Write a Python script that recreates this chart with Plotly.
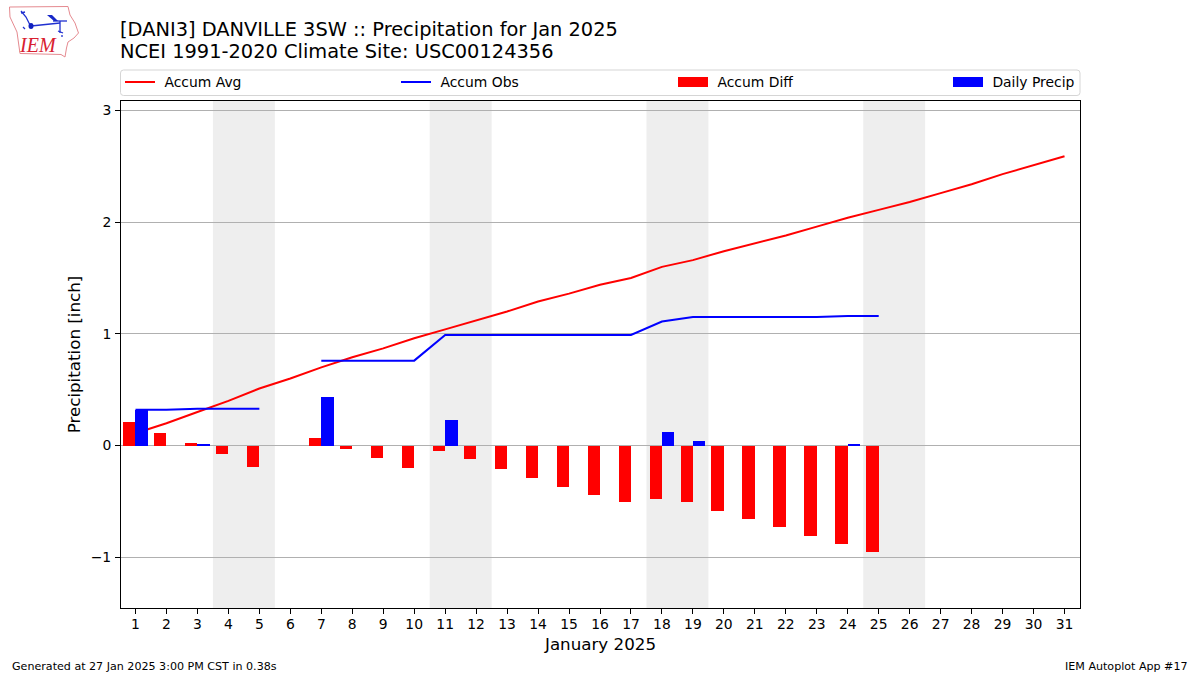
import plotly.graph_objects as go

days = list(range(1, 32))
accum_avg = [0.11, 0.20, 0.30, 0.40, 0.51, 0.60, 0.70, 0.79, 0.87, 0.96, 1.04, 1.12, 1.20, 1.29, 1.36, 1.44,
             1.50, 1.60, 1.66, 1.74, 1.81, 1.88, 1.96, 2.04, 2.11, 2.18, 2.26, 2.34, 2.43, 2.51, 2.59]
accum_obs = [0.32, 0.32, 0.33, 0.33, 0.33, None, 0.76, 0.76, 0.76, 0.76, 0.99, 0.99, 0.99, 0.99, 0.99, 0.99,
             0.99, 1.11, 1.15, 1.15, 1.15, 1.15, 1.15, 1.16, 1.16]
accum_diff = [0.21, 0.11, 0.02, -0.08, -0.19, None, 0.065, -0.03, -0.11, -0.20, -0.045, -0.125, -0.21, -0.295, -0.37,
              -0.447, -0.51, -0.483, -0.51, -0.59, -0.66, -0.733, -0.81, -0.885, -0.957]
daily_precip = [0.32, 0, 0.01, 0, 0, None, 0.43, 0, 0, 0, 0.225, 0, 0, 0, 0, 0, 0, 0.12, 0.04, 0, 0, 0, 0, 0.01, 0]
weekend_starts = [4, 11, 18, 25]
y_ticks = [-1, 0, 1, 2, 3]
title_lines = ["[DANI3] DANVILLE 3SW :: Precipitation for Jan 2025", "NCEI 1991-2020 Climate Site: USC00124356"]

W, H = 1200, 675
L, R, T, B = 121, 1080, 101, 608
FONT = "DejaVu Sans"
NB = "\u00a0"


def px(x):
    return (x - L) / (R - L)


def py(y):
    return (B - y) / (B - T)


fig = go.Figure()
fig.add_trace(go.Scatter(x=days, y=accum_avg, mode="lines", name=NB + "Accum Avg",
                         line=dict(color="#ff0000", width=2), legend="legend"))
fig.add_trace(go.Scatter(x=days[:25], y=accum_obs, mode="lines", name=NB + "Accum Obs",
                         line=dict(color="#0000ff", width=2), legend="legend2", connectgaps=False))
fig.add_trace(go.Bar(x=[d - 0.2 for d in days[:25]], y=accum_diff, width=0.4, name="Accum Diff",
                     marker=dict(color="#ff0000", line=dict(width=0)), showlegend=False,
                     legendgroup="diff", xaxis="x2", yaxis="y2"))
fig.add_trace(go.Bar(x=[d + 0.2 for d in days[:25]], y=daily_precip, width=0.4, name="Daily Precip",
                     marker=dict(color="#0000ff", line=dict(width=0)), showlegend=False,
                     legendgroup="precip", xaxis="x2", yaxis="y2"))
# legend keys for the bar series
fig.add_trace(go.Scatter(x=[None], y=[None], mode="lines", name=NB + "Accum Diff", legendgroup="diff",
                         line=dict(color="#ff0000", width=10), legend="legend3"))
fig.add_trace(go.Scatter(x=[None], y=[None], mode="lines", name=NB + "Daily Precip", legendgroup="precip",
                         line=dict(color="#0000ff", width=10), legend="legend4"))

shapes = []
for s in weekend_starts:
    shapes.append(dict(type="rect", xref="x", yref="paper", x0=s - 0.5, x1=s + 1.5, y0=0, y1=1,
                       fillcolor="#eeeeee", line=dict(width=0), layer="below"))


def path(points, close=False):
    d = "M" + " L".join(f"{px(x):.5f},{py(y):.5f}" for x, y in points)
    return d + (" Z" if close else "")


# legend frame
r = 3
x0, x1, y0, y1 = 120.5, 1080, 70, 95.5
frame = (f"M{px(x0 + r):.5f},{py(y0):.5f} L{px(x1 - r):.5f},{py(y0):.5f} "
         f"Q{px(x1):.5f},{py(y0):.5f} {px(x1):.5f},{py(y0 + r):.5f} L{px(x1):.5f},{py(y1 - r):.5f} "
         f"Q{px(x1):.5f},{py(y1):.5f} {px(x1 - r):.5f},{py(y1):.5f} L{px(x0 + r):.5f},{py(y1):.5f} "
         f"Q{px(x0):.5f},{py(y1):.5f} {px(x0):.5f},{py(y1 - r):.5f} L{px(x0):.5f},{py(y0 + r):.5f} "
         f"Q{px(x0):.5f},{py(y0):.5f} {px(x0 + r):.5f},{py(y0):.5f} Z")
shapes.append(dict(type="path", xref="paper", yref="paper", path=frame, line=dict(color="#d5d5d5", width=1),
                   fillcolor="rgba(255,255,255,0.8)", layer="above"))

# IEM logo
iowa = [(9.5, 7), (68, 6.5), (70, 15), (75, 23), (78.5, 33), (74, 38), (68, 42), (66.5, 48), (65, 57), (61, 54.5),
        (20, 53.5), (17, 32), (10, 17)]
shapes.append(dict(type="path", xref="paper", yref="paper", path=path(iowa, True),
                   line=dict(color="#e58a90", width=1), layer="above"))
blue_parts = [
    [(31, 26), (60, 23)], [(53, 21), (67, 21)], [(60, 21), (60, 33)], [(21, 11), (26, 17), (30, 25)],
    [(21, 13), (25, 12)], [(58, 31), (63, 33)], [(61, 36), (63, 36)], [(23, 27), (25, 29)],
]
for part in blue_parts:
    shapes.append(dict(type="path", xref="paper", yref="paper", path=path(part),
                       line=dict(color="#2030d0", width=1.3), layer="above"))
shapes.append(dict(type="path", xref="paper", yref="paper", path=path([(47, 15), (52, 15), (58, 21), (54, 21)], True),
                   fillcolor="#1828c8", line=dict(width=0), layer="above"))
shapes.append(dict(type="circle", xref="paper", yref="paper", x0=px(28.5), x1=px(33.5), y0=py(29), y1=py(23),
                   fillcolor="#1020c0", line=dict(width=0), layer="above"))

annotations = [
    dict(text=title_lines[0], x=px(118), y=py(29.5), xref="paper", yref="paper", xanchor="left", yanchor="middle",
         showarrow=False, font=dict(family=FONT, size=19.4, color="#000000")),
    dict(text=title_lines[1], x=px(118), y=py(51.5), xref="paper", yref="paper", xanchor="left", yanchor="middle",
         showarrow=False, font=dict(family=FONT, size=19.4, color="#000000")),
    dict(text="Generated at 27 Jan 2025 3:00 PM CST in 0.38s", x=px(10), y=py(666), xref="paper", yref="paper",
         xanchor="left", yanchor="middle", showarrow=False, font=dict(family=FONT, size=11.1, color="#000000")),
    dict(text="IEM Autoplot App #17", x=px(1190), y=py(666), xref="paper", yref="paper", xanchor="right",
         yanchor="middle", showarrow=False, font=dict(family=FONT, size=11.1, color="#000000")),
    dict(text="<i>IEM</i>", x=px(38), y=py(45), xref="paper", yref="paper", xanchor="center", yanchor="middle",
         showarrow=False, font=dict(family="Liberation Serif", size=20, color="#d82030")),
]


def legend_at(x):
    return dict(x=px(x), y=py(82.5), xref="paper", yref="paper", xanchor="left", yanchor="middle",
                bgcolor="rgba(0,0,0,0)", borderwidth=0, itemwidth=30, itemclick=False, itemdoubleclick=False,
                font=dict(family=FONT, size=13.9, color="#000000"))


x_range = [0.532, 31.5]
y_range = [-1.455, 3.085]
axis_common = dict(showline=True, linecolor="#000000", linewidth=1, mirror=True, ticks="outside", ticklen=5,
                   tickwidth=1, tickcolor="#000000", zeroline=False,
                   tickfont=dict(family=FONT, size=13.9, color="#000000"))
fig.update_layout(
    width=W, height=H, margin=dict(l=L, r=W - R, t=T, b=H - B, pad=0),
    paper_bgcolor="#ffffff", plot_bgcolor="#ffffff", barmode="overlay", bargap=0,
    font=dict(family=FONT, color="#000000"),
    shapes=shapes, annotations=annotations,
    xaxis=dict(range=x_range, tickmode="array", tickvals=days, ticktext=[str(d) for d in days], showgrid=False,
               ticklabelstandoff=-2,
               title=dict(text="January 2025", font=dict(family=FONT, size=16.7, color="#000000"), standoff=7),
               **axis_common),
    yaxis=dict(range=y_range, tickmode="array", tickvals=y_ticks, showgrid=True, gridcolor="#b0b0b0", gridwidth=1,
               ticklabelstandoff=1,
               title=dict(text="Precipitation [inch]", font=dict(family=FONT, size=16.7, color="#000000"), standoff=5),
               **axis_common),
    xaxis2=dict(range=x_range, overlaying="x", visible=False),
    yaxis2=dict(range=y_range, overlaying="y", visible=False),
    legend=legend_at(120), legend2=legend_at(396), legend3=legend_at(673), legend4=legend_at(948),
)

fig.write_html("out.html", post_script="document.body.style.margin='0';", config={"displayModeBar": False})
